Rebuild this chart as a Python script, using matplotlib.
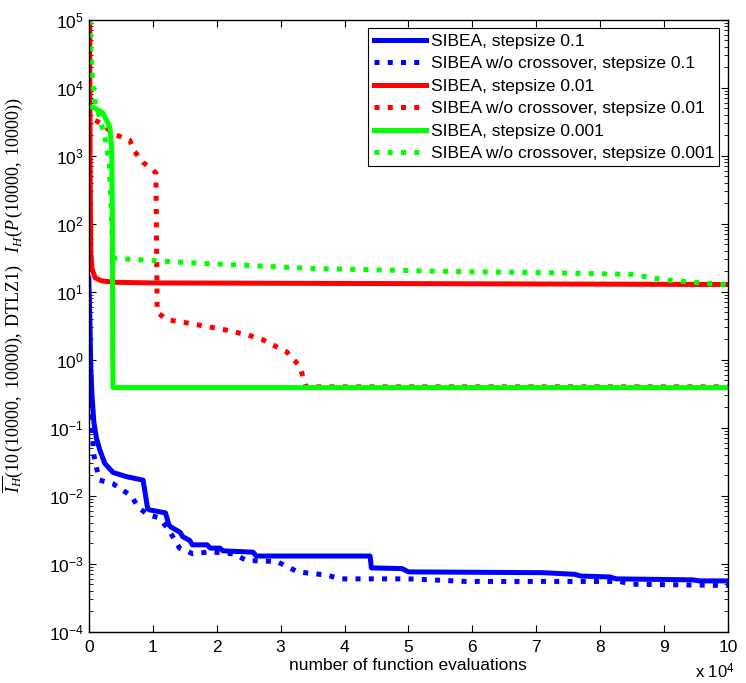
import numpy as np
import matplotlib
matplotlib.use('Agg')
import matplotlib.pyplot as plt
from matplotlib.ticker import LogLocator, FixedLocator, NullFormatter

plt.rcParams['font.family'] = ['Liberation Sans', 'DejaVu Sans']
plt.rcParams['mathtext.fontset'] = 'custom'
plt.rcParams['mathtext.rm'] = 'Liberation Serif'
plt.rcParams['mathtext.it'] = 'Liberation Serif:italic'

# function evaluations in units of 10^4
blue_x = [0.0, 0.02, 0.03, 0.05, 0.08, 0.12, 0.17, 0.25, 0.38, 0.6, 0.85, 0.92,
          0.95, 1.2, 1.25, 1.28, 1.43, 1.47, 1.58, 1.62, 1.85, 1.9, 2.05, 2.1,
          2.57, 2.62, 3.2, 4.4, 4.42, 4.9, 5.0, 7.1, 7.6, 7.7, 8.15, 8.25, 9.45,
          9.55, 10.0]
blue_y = [16, 3, 0.8, 0.3, 0.12, 0.07, 0.048, 0.03, 0.022, 0.019, 0.017, 0.0065,
          0.0062, 0.0056, 0.0038, 0.0035, 0.0029, 0.0025, 0.0022, 0.0019, 0.0019,
          0.0017, 0.0017, 0.00155, 0.00148, 0.0013, 0.0013, 0.0013, 0.00087,
          0.00085, 0.00076, 0.00074, 0.0007, 0.00066, 0.00064, 0.0006, 0.00058,
          0.00056, 0.00056]

bluedot_x = [0.03, 0.05, 0.08, 0.12, 0.17, 0.38, 0.67, 0.77, 0.92, 1.08, 1.23,
             1.42, 1.63, 1.9, 2.26, 2.47, 2.94, 3.27, 3.73, 3.93, 5.0, 5.9, 8.3,
             8.5, 10.0]
bluedot_y = [0.6, 0.1, 0.04, 0.026, 0.017, 0.015, 0.0099, 0.0068, 0.0053, 0.0048,
             0.0034, 0.0017, 0.0014, 0.0015, 0.0014, 0.00112, 0.00108, 0.00076,
             0.00068, 0.0006, 0.0006, 0.00055, 0.00055, 0.0005, 0.00048]

red_x = [0.015, 0.02, 0.03, 0.05, 0.1, 0.2, 0.4, 1.0, 10.0]
red_y = [1e5, 1e3, 40, 22, 16, 14.5, 13.8, 13.5, 12.8]

reddot_x = [0.1, 0.2, 0.38, 0.64, 0.72, 0.85, 1.0, 1.05, 1.07, 1.22, 1.6, 2.1,
            2.5, 2.72, 3.1, 3.3, 3.4, 10.0]
reddot_y = [3300, 3000, 2100, 1700, 1150, 800, 620, 560, 5.0, 3.9, 3.4, 2.8,
            2.3, 1.97, 1.3, 0.8, 0.4, 0.4]

green_x = [0.04, 0.1, 0.22, 0.33, 0.36, 0.37, 0.375, 0.38, 10.0]
green_y = [5200, 5000, 4300, 2650, 1230, 100, 1.0, 0.39, 0.39]

greendot_x = [0.016, 0.03, 0.06, 0.09, 0.17, 0.25, 0.32, 0.36, 0.375, 0.42, 1.5,
              3.5, 5.5, 7.3, 8.5, 9.0, 10.0]
greendot_y = [1e5, 4e4, 1.2e4, 6700, 3700, 1900, 800, 100, 33, 31, 27, 22, 20,
              19, 18, 15, 12.6]

labels = ['SIBEA, stepsize 0.1', 'SIBEA w/o crossover, stepsize 0.1',
          'SIBEA, stepsize 0.01', 'SIBEA w/o crossover, stepsize 0.01',
          'SIBEA, stepsize 0.001', 'SIBEA w/o crossover, stepsize 0.001']

fig = plt.figure(figsize=(7.46, 6.83), dpi=100)
ax = fig.add_axes([0.119, 0.075, 0.857, 0.896])

lw = 3.6
ax.plot(blue_x, blue_y, color='#0000ff', lw=lw, label=labels[0])
ax.plot(bluedot_x, bluedot_y, color='#0000ff', lw=lw, ls=':', label=labels[1])
ax.plot(red_x, red_y, color='#ff0000', lw=lw, label=labels[2])
ax.plot(reddot_x, reddot_y, color='#ff0000', lw=lw, ls=':', label=labels[3])
ax.plot(green_x, green_y, color='#00ff00', lw=lw, label=labels[4])
ax.plot(greendot_x, greendot_y, color='#00ff00', lw=lw, ls=':', label=labels[5])

ax.set_yscale('log')
ax.set_xlim(0, 10)
ax.set_ylim(1e-4, 1e5)
ax.xaxis.set_major_locator(FixedLocator(range(0, 11)))
ax.yaxis.set_major_locator(LogLocator(base=10, numticks=20))
ax.yaxis.set_minor_locator(LogLocator(base=10, subs=np.arange(2, 10), numticks=20))
ax.yaxis.set_minor_formatter(NullFormatter())
ax.tick_params(which='both', direction='in', top=True, right=True, labelsize=12.5)
ax.tick_params(axis='x', pad=6)
ax.tick_params(which='major', length=5)
ax.tick_params(which='minor', length=3)
ax.xaxis.get_offset_text().set_visible(False)
ax.yaxis.get_offset_text().set_visible(False)
for s in ax.spines.values():
    s.set_linewidth(1.0)

ax.set_xlabel('number of function evaluations', fontsize=12.5, labelpad=2)
fig.text(0.985, 0.003, r'x 10$^{\mathdefault{4}}$', ha='right', va='bottom',
         fontsize=12)
ax.set_ylabel(r'$\overline{I_H}(10\,(10000,\ 10000),\ \mathrm{DTLZ1})\quad I_H(P\,(10000,\ 10000))$',
              fontsize=13)
ax.yaxis.set_label_coords(-0.1, 0.55)

leg = ax.legend(loc='upper right', fontsize=12.5, handlelength=3.0,
                fancybox=False, edgecolor='black', framealpha=1,
                borderaxespad=0.5, labelspacing=0.42, handletextpad=0.3,
                borderpad=0.3)
leg.get_frame().set_linewidth(0.8)

fig.savefig('out.png', dpi=100)
